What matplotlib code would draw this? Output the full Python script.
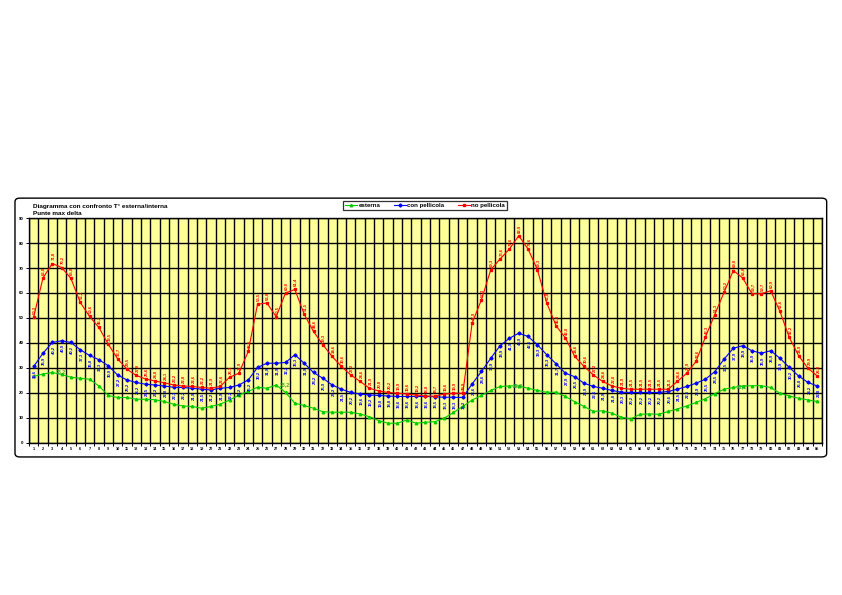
import numpy as np
import matplotlib
matplotlib.use("Agg")
import matplotlib.pyplot as plt
from matplotlib.patches import FancyBboxPatch

plt.rcParams['font.family'] = ['Liberation Sans', 'DejaVu Sans']

# temperature series (85 samples)
esterna = [26.6, 27.6, 28.2, 27.4, 26.3, 25.9, 25.5, 22.8, 19.0, 18.2,
           18.2, 17.5, 17.5, 17.3, 16.6, 15.5, 14.8, 14.6, 13.9, 14.6,
           15.5, 17.2, 19.2, 20.6, 22.3, 21.9, 23.2, 20.2, 15.9, 15.0,
           13.9, 12.5, 12.3, 12.3, 12.3, 11.6, 10.5, 8.9, 7.9, 7.9,
           9.2, 7.9, 8.3, 8.5, 9.9, 12.2, 14.6, 17.2, 19.0, 21.0,
           22.6, 22.8, 22.8, 21.9, 21.0, 20.3, 20.3, 18.6, 16.5, 14.6,
           12.6, 12.9, 11.9, 10.3, 9.6, 11.5, 11.6, 11.5, 12.6, 13.6,
           14.8, 16.2, 17.7, 19.7, 21.5, 22.2, 22.8, 22.9, 22.9, 22.2,
           19.9, 18.8, 17.9, 17.2, 16.6]
con_pellicola = [30.6, 35.9, 40.2, 40.9, 40.2, 37.3, 35.0, 33.3, 30.9, 27.2,
                 25.2, 24.2, 23.5, 23.2, 22.8, 22.3, 22.2, 21.9, 21.5, 21.2,
                 21.9, 22.2, 23.2, 25.2, 30.2, 31.9, 31.9, 32.2, 35.3, 31.9,
                 28.2, 25.9, 23.2, 21.5, 20.2, 19.6, 19.2, 19.0, 18.8, 18.6,
                 18.6, 18.6, 18.6, 18.5, 18.3, 18.3, 18.2, 23.6, 28.6, 33.9,
                 38.9, 41.9, 43.9, 42.6, 39.3, 35.3, 31.7, 27.9, 26.5, 23.9,
                 22.6, 21.9, 21.0, 20.3, 20.2, 20.2, 20.2, 20.2, 20.6, 21.5,
                 22.6, 23.9, 25.5, 28.5, 33.5, 37.9, 38.9, 36.9, 35.9, 36.9,
                 33.9, 30.2, 26.8, 24.2, 22.8]
no_pellicola = [50.3, 66.0, 71.8, 70.2, 65.8, 56.2, 50.6, 46.2, 39.5, 33.7,
                29.5, 27.0, 25.6, 24.8, 24.1, 23.2, 22.8, 22.6, 22.2, 21.9,
                22.6, 26.3, 27.9, 36.6, 55.5, 56.0, 50.5, 60.0, 61.4, 51.5,
                44.6, 39.3, 34.6, 30.6, 27.2, 24.6, 21.9, 20.8, 20.2, 19.9,
                19.6, 19.2, 18.8, 18.7, 19.6, 19.9, 19.9, 47.9, 57.3, 69.3,
                73.6, 77.6, 82.9, 77.6, 69.3, 56.0, 46.9, 42.0, 34.6, 30.6,
                27.2, 24.6, 22.8, 21.9, 21.5, 21.5, 21.5, 21.5, 21.5, 24.6,
                27.9, 32.6, 42.3, 51.3, 60.2, 69.0, 66.0, 59.7, 59.7, 60.9,
                52.6, 42.2, 34.9, 29.9, 26.8]
esterna_label_idx = [3, 27, 52, 76]

x = np.arange(1, len(esterna) + 1)

def fmt(v):
    return ("%.1f" % v).replace(".", ",")

fig = plt.figure(figsize=(8.42, 5.95), dpi=100)

# rounded chart border
border = FancyBboxPatch((0.0178, 0.232), 0.964, 0.435,
                        boxstyle="round,pad=0,rounding_size=0.006",
                        transform=fig.transFigure, fill=False,
                        edgecolor="black", linewidth=1.0)
fig.patches.append(border)

ax = fig.add_axes([0.0344, 0.2555, 0.9418, 0.3781])
ax.set_facecolor("#FFFF99")

ax.plot(x, esterna, color="#00CC00", lw=0.8, marker="^", ms=1.8, label="esterna")
ax.plot(x, con_pellicola, color="#0000FF", lw=0.8, marker="D", ms=1.6, label="con pellicola")
ax.plot(x, no_pellicola, color="#FF0000", lw=0.8, marker="s", ms=1.6, label="no pellicola")

# data labels
for xi, v in zip(x, no_pellicola):
    ax.annotate(fmt(v), (xi, v), xytext=(0.6, 2.2), textcoords="offset points",
                rotation=90, ha="center", va="bottom", fontsize=3.1,
                fontweight="bold", color="#FF0000")
for xi, v in zip(x, con_pellicola):
    ax.annotate(fmt(v), (xi, v), xytext=(0.6, -2.2), textcoords="offset points",
                rotation=90, ha="center", va="top", fontsize=3.1,
                fontweight="bold", color="#0000FF")
for i in esterna_label_idx:
    ax.annotate(fmt(esterna[i - 1]), (x[i - 1], esterna[i - 1]), xytext=(2.5, 0.5),
                textcoords="offset points", ha="left", va="center",
                fontsize=3.8, fontweight="bold", color="#33AA33")

ax.set_xlim(0.5, len(x) + 0.5)
ax.set_ylim(0, 90)
ax.set_yticks(np.arange(0, 91, 10))
ax.set_xticks(x)
ax.set_xticklabels([str(i) for i in x])
ax.set_xticks(np.arange(0.5, len(x) + 1, 1), minor=True)
ax.grid(True, which="minor", axis="x", color="black", lw=1.0)
ax.grid(True, which="major", axis="y", color="black", lw=1.0)
ax.set_axisbelow(True)
ax.tick_params(axis="x", which="major", length=0, labelsize=2.8, pad=3)
ax.tick_params(axis="x", which="minor", length=2, width=0.7)
ax.tick_params(axis="y", length=2, width=0.7, labelsize=3.2, pad=2)
for lab in ax.get_xticklabels() + ax.get_yticklabels():
    lab.set_fontweight("bold")
for s in ax.spines.values():
    s.set_linewidth(1.0)

fig.text(0.039, 0.653, "Diagramma con confronto T° esterna/interna",
         fontsize=4.6, fontweight="bold", va="center")
fig.text(0.039, 0.641, "Punte max delta", fontsize=4.6, fontweight="bold", va="center")

leg = fig.legend(loc="center", bbox_to_anchor=(0.505, 0.6545), ncol=3,
                 fontsize=4.4, frameon=True, fancybox=False, edgecolor="black",
                 handlelength=2.0, columnspacing=2.2, borderpad=0.3,
                 handletextpad=0.2)
leg.get_frame().set_linewidth(0.9)
for t in leg.get_texts():
    t.set_fontweight("bold")

fig.savefig("out.png", dpi=100)
